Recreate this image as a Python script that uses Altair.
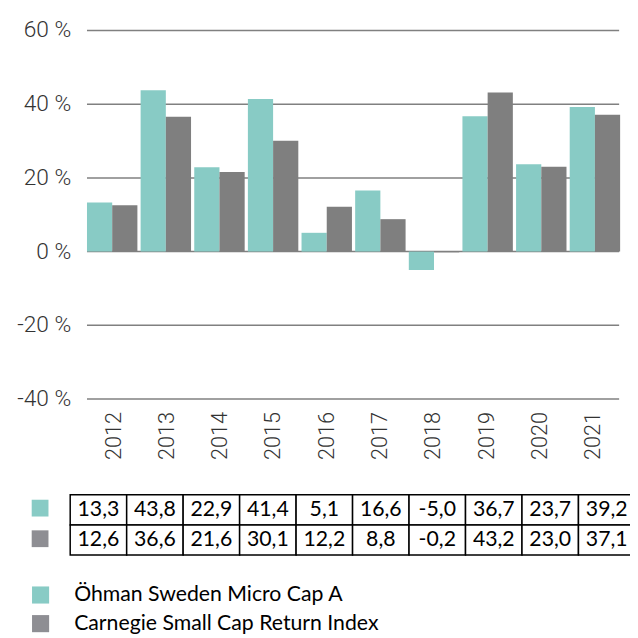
import altair as alt
import pandas as pd

years = ["2012", "2013", "2014", "2015", "2016", "2017", "2018", "2019", "2020", "2021"]
series = ["Öhman Sweden Micro Cap A", "Carnegie Small Cap Return Index"]
ohman = [13.3, 43.8, 22.9, 41.4, 5.1, 16.6, -5.0, 36.7, 23.7, 39.2]
carnegie = [12.6, 36.6, 21.6, 30.1, 12.2, 8.8, -0.2, 43.2, 23.0, 37.1]
y_ticks = [60, 40, 20, 0, -20, -40]
y_tick_labels = ["60 %", "40 %", "20 %", "0 %", "-20 %", "-40 %"]

TEAL = "#88CBC5"
GRAY = "#7F7F7F"
SWATCH_GRAY = "#8E8E93"

bars_df = pd.DataFrame(
    [{"year": y, "series": series[0], "value": v} for y, v in zip(years, ohman)]
    + [{"year": y, "series": series[1], "value": v} for y, v in zip(years, carnegie)]
)
ticks_df = pd.DataFrame({"v": y_ticks, "label": y_tick_labels})
years_df = pd.DataFrame({"year": years})
rows = ["r1", "r2"]
table_df = pd.DataFrame(
    [{"year": y, "row": "r1", "txt": f"{v:.1f}".replace(".", ",")} for y, v in zip(years, ohman)]
    + [{"year": y, "row": "r2", "txt": f"{v:.1f}".replace(".", ",")} for y, v in zip(years, carnegie)]
)
swatch_df = pd.DataFrame({"row": rows, "series": series})
legend_df = pd.DataFrame({"series": series})

yscale = alt.Scale(domain=[-40, 60], range=[392, 18.7], nice=False, zero=False)
xband = alt.Scale(domain=years, range=[80, 620], paddingInner=0.06, paddingOuter=0)
col_scale = alt.Scale(domain=series, range=[TEAL, GRAY])
sw_scale = alt.Scale(domain=series, range=[TEAL, SWATCH_GRAY])

grid = alt.Chart(ticks_df).mark_rule(color="#808080", strokeWidth=1.5).encode(
    y=alt.Y("v:Q", scale=yscale, axis=None),
    x=alt.value(80),
    x2=alt.value(619),
)

ylabels = alt.Chart(ticks_df).mark_text(
    align="right", baseline="middle", fontSize=23, font="Roboto", fontWeight=300, color="#333333"
).encode(
    y=alt.Y("v:Q", scale=yscale, axis=None),
    x=alt.value(64),
    text="label:N",
)

bars = alt.Chart(bars_df).mark_bar().encode(
    x=alt.X("year:N", scale=xband, axis=None),
    xOffset=alt.XOffset("series:N", scale=alt.Scale(domain=series, paddingInner=0, paddingOuter=0)),
    y=alt.Y("value:Q", scale=yscale, axis=None),
    y2=alt.datum(0),
    color=alt.Color("series:N", scale=col_scale, legend=None),
)

xlabels = alt.Chart(years_df).mark_text(
    angle=270, align="right", baseline="middle", fontSize=22, font="Roboto", fontWeight=300, color="#333333"
).encode(
    x=alt.X("year:N", scale=xband, axis=None),
    y=alt.value(405),
    text="year:N",
)

tx = alt.Scale(domain=years, range=[63, 635], paddingInner=0, paddingOuter=0)
ty = alt.Scale(domain=rows, range=[489, 550], paddingInner=0, paddingOuter=0)

cells = alt.Chart(table_df).mark_rect(fill="white", stroke="black", strokeWidth=1.5).encode(
    x=alt.X("year:N", scale=tx, axis=None),
    y=alt.Y("row:N", scale=ty, axis=None),
)
cell_text = alt.Chart(table_df).mark_text(
    align="center", baseline="middle", fontSize=21.5, font="Lato", color="black"
).encode(
    x=alt.X("year:N", scale=tx, axis=None),
    y=alt.Y("row:N", scale=ty, axis=None),
    text="txt:N",
)

table_sw = alt.Chart(swatch_df).mark_square(size=289, opacity=1).encode(
    x=alt.value(32.5),
    y=alt.Y("row:N", scale=alt.Scale(domain=rows, range=[502.5, 533.5], padding=0), axis=None),
    color=alt.Color("series:N", scale=sw_scale, legend=None),
)

lscale = alt.Scale(domain=series, range=[590.5, 619.5], padding=0)
leg_sw = alt.Chart(legend_df).mark_square(size=300, opacity=1).encode(
    x=alt.value(33),
    y=alt.Y("series:N", scale=lscale, axis=None),
    color=alt.Color("series:N", scale=sw_scale, legend=None),
)
leg_text = alt.Chart(legend_df).mark_text(
    align="left", baseline="middle", fontSize=21.5, font="Lato", color="black"
).encode(
    x=alt.value(67),
    y=alt.Y("series:N", scale=lscale, axis=None),
    text="series:N",
)

chart = alt.layer(
    grid, ylabels, bars, xlabels, cells, cell_text, table_sw, leg_sw, leg_text
).resolve_scale(
    x="independent", y="independent", color="independent"
).properties(
    width=630, height=630, autosize=alt.AutoSizeParams(type="none"), padding=0
).configure_view(stroke=None)

chart.save("out.html", embed_options={"renderer": "svg", "actions": False})
